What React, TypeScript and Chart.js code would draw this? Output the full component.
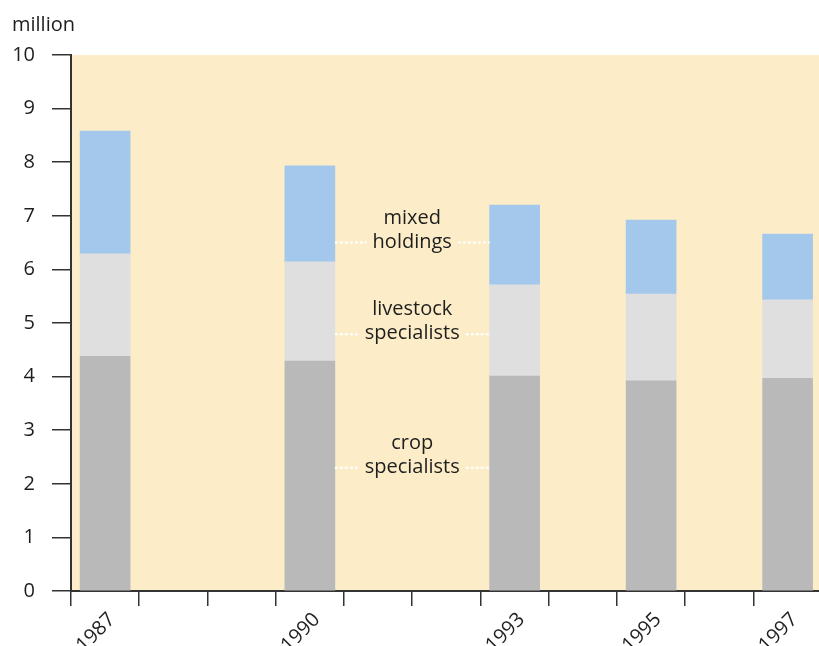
import React, { useEffect, useRef } from "react";
import { Chart, registerables } from "chart.js";

Chart.register(...registerables);

const years = [1987, 1990, 1993, 1995, 1997];
const cropSpecialists = [4.38, 4.29, 4.01, 3.92, 3.97];
const livestockSpecialists = [1.91, 1.85, 1.70, 1.62, 1.46];
const mixedHoldings = [2.29, 1.79, 1.49, 1.38, 1.23];
const yTicks = [0, 1, 2, 3, 4, 5, 6, 7, 8, 9, 10];
const xTickMarks = [1986.5, 1987.5, 1988.5, 1989.5, 1990.5, 1991.5, 1992.5, 1993.5, 1994.5, 1995.5, 1996.5];
const annotationLines = [["mixed", "holdings"], ["livestock", "specialists"], ["crop", "specialists"]];
const annotationValues = [6.51, 4.8, 2.31];
const annotationYear = 1991.5;
const unitLabel = "million";

const FONT = "'Open Sans', sans-serif";
const TEXT = "#1e1e1e";
const AXIS = "#333333";

export default function App() {
  const ref = useRef<HTMLCanvasElement | null>(null);
  useEffect(() => {
    document.body.style.margin = "0";
    const canvas = ref.current;
    if (!canvas) return;

    const bgPlugin = {
      id: "bg",
      beforeDraw(chart: any) {
        const { ctx, chartArea } = chart;
        ctx.save();
        ctx.fillStyle = "#FCEDC8";
        ctx.fillRect(chartArea.left, chartArea.top, chartArea.right - chartArea.left, chartArea.bottom - chartArea.top);
        ctx.restore();
      },
      afterDraw(chart: any) {
        const { ctx } = chart;
        ctx.save();
        ctx.font = `20px ${FONT}`;
        ctx.fillStyle = TEXT;
        ctx.textAlign = "left";
        ctx.textBaseline = "alphabetic";
        ctx.fillText(unitLabel, 12, 31);
        ctx.restore();
      },
    };

    const annotPlugin = {
      id: "annot",
      afterDatasetsDraw(chart: any) {
        const { ctx, scales } = chart;
        const meta0 = chart.getDatasetMeta(0);
        const leftBar: any = meta0.data[1];
        const rightBar: any = meta0.data[2];
        const x0 = leftBar.x + leftBar.width / 2;
        const x1 = rightBar.x - rightBar.width / 2;
        const cx = scales.x.getPixelForValue(annotationYear);
        ctx.save();
        ctx.font = `20px ${FONT}`;
        annotationLines.forEach((lines, i) => {
          const y = scales.y.getPixelForValue(annotationValues[i]);
          ctx.fillStyle = TEXT;
          ctx.textAlign = "center";
          ctx.textBaseline = "middle";
          ctx.fillText(lines[0], cx, y - 24);
          ctx.fillText(lines[1], cx, y);
          const w = ctx.measureText(lines[1]).width;
          ctx.strokeStyle = "#ffffff";
          ctx.lineWidth = 2;
          ctx.setLineDash([3, 2]);
          ctx.beginPath();
          ctx.moveTo(x0, y + 0.5);
          ctx.lineTo(cx - w / 2 - 6, y + 0.5);
          ctx.moveTo(cx + w / 2 + 6, y + 0.5);
          ctx.lineTo(x1, y + 0.5);
          ctx.stroke();
        });
        ctx.restore();
      },
    };

    const mk = (vals: number[]) => vals.map((v, i) => ({ x: years[i], y: v }));

    const chart = new Chart(canvas, {
      type: "bar",
      data: {
        datasets: [
          { label: "crop specialists", data: mk(cropSpecialists) as any, backgroundColor: "#B9B9B9", barThickness: 50 },
          { label: "livestock specialists", data: mk(livestockSpecialists) as any, backgroundColor: "#DFDFDF", barThickness: 50 },
          { label: "mixed holdings", data: mk(mixedHoldings) as any, backgroundColor: "#A3C8EB", barThickness: 50 },
        ],
      },
      options: {
        animation: false,
        responsive: false,
        devicePixelRatio: 1,
        layout: { padding: { top: 55, left: 0, right: 0, bottom: 0 } },
        plugins: { legend: { display: false }, tooltip: { enabled: false }, title: { display: false } },
        scales: {
          x: {
            type: "linear",
            stacked: true,
            offset: false,
            min: 1986.5,
            max: 1997.46,
            afterBuildTicks(scale: any) {
              const all = [...xTickMarks, ...years].sort((a, b) => a - b);
              scale.ticks = all.map((v) => ({ value: v }));
            },
            afterFit(scale: any) {
              scale.height = 55;
              scale.paddingLeft = 0;
              scale.paddingRight = 0;
            },
            grid: {
              offset: false,
              drawOnChartArea: false,
              tickLength: 15,
              lineWidth: 1.5,
              tickColor: (ctx: any) => (ctx.tick && years.includes(ctx.tick.value) ? "rgba(0,0,0,0)" : AXIS),
            } as any,
            border: { color: AXIS, width: 2 },
            ticks: {
              autoSkip: false,
              minRotation: 45,
              maxRotation: 45,
              padding: 2,
              labelOffset: 7,
              color: TEXT,
              font: { family: FONT, size: 20 },
              callback: (v: any) => (years.includes(Number(v)) ? String(v) : ""),
            },
          },
          y: {
            stacked: true,
            min: 0,
            max: 10,
            afterBuildTicks(scale: any) {
              scale.ticks = yTicks.map((v) => ({ value: v }));
            },
            afterFit(scale: any) {
              scale.width = 71;
            },
            grid: { drawOnChartArea: false, tickLength: 19, lineWidth: 1.5, tickColor: AXIS },
            border: { color: AXIS, width: 2 },
            ticks: {
              padding: 17,
              color: TEXT,
              font: { family: FONT, size: 20 },
            },
          },
        },
      },
      plugins: [bgPlugin, annotPlugin],
    });
    return () => chart.destroy();
  }, []);
  return <canvas ref={ref} width={819} height={646} style={{ display: "block" }} />;
}
